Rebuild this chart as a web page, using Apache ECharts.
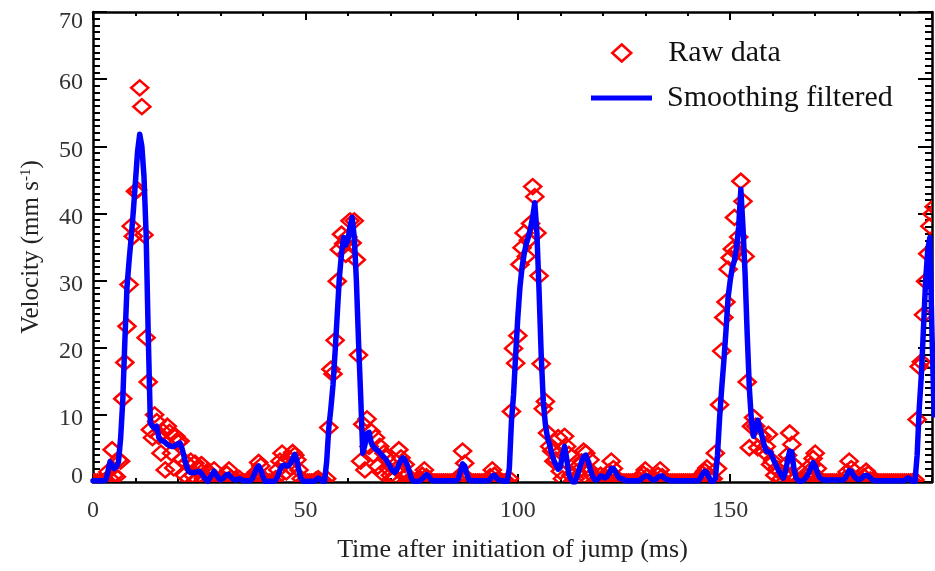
<!DOCTYPE html>
<html><head><meta charset="utf-8">
<script src="https://cdn.jsdelivr.net/npm/echarts@6/dist/echarts.min.js"></script>
<style>html,body{margin:0;padding:0;background:#fff}#chart{width:935px;height:571px}</style>
</head><body><div id="chart"></div>
<script>
// time grid step (ms)
const sampleStepMs = 0.5;
const xMin = 0, xMax = 197.5, yMin = 0, yMax = 70;
const xMajorStep = 50, xMinorStep = 10, yMajorStep = 10;
const seriesNames = ['Raw data', 'Smoothing filtered'];
const xTitle = 'Time after initiation of jump (ms)';
const yTitle = 'Velocity (mm s{sup|-1})';

// raw velocity, one value every 0.5 ms from t = 0 to 198 ms
const rawVelocity = [
0,0,0,0,0,0,0.3,1.5,0.5,4.8,
1.0,0.8,3.3,3.1,12.4,17.8,23.2,29.4,38.1,36.6,
43.3,43.5,58.7,55.9,36.8,21.5,14.9,7.8,6.6,10.0,
9.0,6.8,4.3,7.5,1.8,8.3,7.4,4.3,2.1,6.8,
5.9,6.1,3.4,1.0,2.8,0.5,3.1,1.0,2.8,0.3,
1.8,2.6,0.5,0.3,1.6,0.2,1.0,1.8,0.3,0,
0.5,0,0.3,1.2,1.8,0.6,0,0,0.2,0.5,
0,0,0,0.3,0,0,0.8,1.5,2.9,2.4,
0.6,0,0,0,0,0.2,0.5,1.8,3.1,4.3,
2.8,1.5,3.6,2.2,4.4,4.0,3.3,1.8,0.5,0,
0,0,0,0,0,0.3,0.5,0.2,0,0,
0.5,8.1,16.8,16.1,21.1,29.9,34.6,36.9,35.5,33.9,
36.5,38.9,35.6,38.9,33.1,18.9,3.1,8.6,1.8,9.4,
5.3,7.5,4.1,6.6,2.3,5.3,1.4,4.3,3.6,2.0,
1.0,0.3,0.8,2.0,4.8,3.6,1.5,2.6,1.0,0.3,
0,0,0,0,0.5,1.0,1.8,0.8,0,0,
0,0,0,0,0,0,0,0,0,0,
0,0,0.3,1.0,4.6,2.8,0.6,0,0,0,
0,0,0,0,0,0,0.3,0.8,1.8,1.0,
0.2,0,0,0,0,0,0.5,10.5,19.9,17.7,
21.8,32.4,34.9,37.1,33.6,36.0,38.5,44.0,42.5,37.1,
30.7,17.6,10.9,12.0,7.3,5.3,4.6,3.1,3.3,6.6,
1.6,0.5,6.8,5.3,4.1,1.0,0.2,0.5,1.5,2.5,
3.0,4.6,4.3,2.0,3.3,1.0,0,0,0.3,1.0,
0.5,0,0.4,1.5,3.1,2.0,0.8,0.2,0,0,
0,0,0,0,0,0,0,0.3,0.8,1.2,
1.8,0.8,0.2,0,0,0.3,1.0,1.8,0.8,0.2,
0,0,0,0,0,0,0,0,0,0,
0,0,0,0,0,0,0.5,1.2,1.6,2.1,
1.0,0.3,0.5,4.3,2.0,11.5,19.5,24.5,26.8,31.7,
33.4,34.7,39.4,34.4,36.5,44.8,41.8,33.6,14.9,5.1,
8.3,9.6,8.3,5.1,7.0,6.8,4.5,5.3,7.1,2.6,
3.1,1.0,2.0,1.6,0.5,1.2,2.5,4.0,7.3,5.6,
2.5,0.5,0,0,0,0.3,0.8,1.5,2.5,3.5,
4.3,2.0,0.5,0,0,0,0,0,0,0,
0,0,0,0,0.5,1.5,3.1,2.0,0.5,0,
0,0,0.3,0.8,1.6,1.2,0.3,0,0,0,
0,0,0,0,0,0,0,0,0,0,
0,0,0,0,0,0,0,0.3,9.3,17.2,
17.9,24.9,29.9,34.0,38.1,39.9,41.0
];

// smoothing-filtered velocity on the same 0.5 ms grid
const smoothVelocity = [
0.2,0.2,0.2,0.2,0.2,0.2,0.3,1.5,3.0,2.4,
2.0,2.3,3.0,6.5,12,21,29,33,36.5,40.4,
44.8,49.3,51.8,50,45.5,37,22,8.8,8.3,8.0,
8.3,6.6,6.2,6.1,5.9,5.6,5.4,5.3,5.3,5.5,
5.7,5.8,4.9,3.6,2.4,1.6,1.4,1.4,1.4,1.5,
1.6,1.3,0.8,0.4,0.1,0.6,1.1,1.6,1.1,0.6,
0.3,0.5,0.8,1.1,1.1,0.7,0.4,0.3,0.4,0.5,
0.3,0.2,0.2,0.2,0.2,0.5,1.2,2.0,2.4,1.8,
0.8,0.1,0.1,0.1,0.1,0.1,0.3,0.9,1.8,2.4,
2.5,2.4,2.4,2.8,3.5,4.1,3.2,1.6,0.5,0.1,
0.1,0.1,0.1,0.1,0.1,0.3,0.6,0.4,0.1,0.1,
3,8,11,14.5,19.5,25,30.5,34,36.4,35.3,
36,38,39.4,36.5,30,21,13,4.3,5.5,7.2,
7.4,5.8,5.3,4.9,4.7,4.4,4.0,3.7,3.3,2.8,
2.2,1.7,1.4,1.8,2.6,3.3,3.6,3.2,2.5,1.5,
0.4,0.1,0.1,0.1,0.2,0.5,0.8,1.1,0.9,0.4,
0.2,0.2,0.2,0.2,0.2,0.2,0.2,0.2,0.2,0.2,
0.2,0.2,0.5,1.6,2.7,2.4,1.2,0.3,0.2,0.2,
0.2,0.2,0.2,0.2,0.2,0.2,0.2,0.4,0.9,1.0,
0.6,0.3,0.2,0.2,0.1,0.1,2,9,13,19,
24.5,29,32,34,35.5,36.5,37.8,39.5,41.6,37,
28.5,19,12,8.5,6.6,5.5,4.2,3.2,2.5,1.9,
2.2,4.0,5.3,3.5,1.2,0.4,0,0,1.0,2.0,
3.0,3.8,4.0,3.2,2.0,1.0,0.4,0.3,0.5,0.9,
0.8,0.6,0.8,1.3,2.0,2.0,1.5,0.9,0.5,0.5,
0.3,0.2,0.2,0.2,0.2,0.2,0.2,0.2,0.4,0.7,
0.9,0.9,0.7,0.4,0.3,0.4,0.7,0.9,0.9,0.6,
0.4,0.3,0.2,0.2,0.2,0.2,0.2,0.2,0.2,0.2,
0.2,0.2,0.2,0.2,0.2,0.2,0.6,1.2,1.6,1.4,
0.7,0.1,0.1,0.5,4,9.5,14,18,22.5,27.5,
30,32,33,35,38.1,43.6,38,31,22,14,
9,6.8,8,9.2,8.0,6.8,5.5,4.6,4.5,4.4,
3.6,2.9,2.2,1.6,1.0,0.6,1.5,3.2,4.6,4.5,
2.0,0.6,0.2,0.1,0.2,0.4,0.8,1.4,2.2,2.9,
2.4,1.4,0.7,0.4,0.3,0.3,0.3,0.3,0.3,0.3,
0.3,0.3,0.3,0.3,0.5,1.1,1.7,1.6,1.0,0.6,
0.4,0.4,0.6,0.9,1.0,0.9,0.6,0.3,0.2,0.2,
0.2,0.2,0.2,0.2,0.2,0.2,0.2,0.2,0.2,0.2,
0.2,0.2,0.2,0.5,0.6,0.3,0.1,0.1,4,11,
16,23,30,34.6,36.4,22,10
];

const FONT = '"Liberation Serif", "Times New Roman", serif';
const rawData = rawVelocity.map((v, i) => [i * sampleStepMs, v]);
const smoothData = smoothVelocity.map((v, i) => [i * sampleStepMs, v]);

const frameLine = { show: true, onZero: false, lineStyle: { color: '#000', width: 2.5 } };

function xAxisCfg(position, major) {
  return {
    type: 'value', position: position, min: xMin, max: xMax,
    interval: major ? xMajorStep : xMinorStep,
    axisLine: major ? frameLine : { show: false, onZero: false },
    axisTick: { show: true, inside: true, length: major ? 8 : 4, lineStyle: { color: '#000', width: 2 } },
    axisLabel: (major && position === 'bottom') ? {
      show: true, showMaxLabel: false, margin: 17, fontSize: 24, color: '#333', fontFamily: FONT
    } : { show: false },
    splitLine: { show: false },
    name: (major && position === 'bottom') ? xTitle : '',
    nameLocation: 'middle', nameGap: 55,
    nameTextStyle: { fontSize: 26, color: '#222', fontFamily: FONT }
  };
}

function yAxisCfg(position) {
  const left = position === 'left';
  return {
    type: 'value', position: position, min: yMin, max: yMax, interval: yMajorStep,
    axisLine: frameLine,
    axisTick: { show: true, inside: true, length: 14, lineStyle: { color: '#000', width: 2 } },
    minorTick: { show: true, splitNumber: 10, length: 7, lineStyle: { color: '#000', width: 2 } },
    axisLabel: left ? {
      show: true, margin: 10,
      formatter: function (v) { return v === yMax ? '{t|' + v + '}' : (v === yMin ? '{b|' + v + '}' : '{n|' + v + '}'); },
      rich: {
        t: { fontSize: 24, color: '#333', fontFamily: FONT, padding: [20, 0, 0, 0] },
        b: { fontSize: 24, color: '#333', fontFamily: FONT, padding: [0, 0, 10, 0] },
        n: { fontSize: 24, color: '#333', fontFamily: FONT, padding: [8, 0, 0, 0] }
      }
    } : { show: false },
    splitLine: { show: false },
    minorSplitLine: { show: false },
    name: left ? yTitle : '',
    nameLocation: 'middle', nameGap: 49,
    nameTextStyle: {
      fontSize: 25, color: '#222', fontFamily: FONT,
      rich: { sup: { fontSize: 15, color: '#222', fontFamily: FONT, verticalAlign: 'top' } }
    }
  };
}

const chart = echarts.init(document.getElementById('chart'), null, { renderer: 'canvas' });
chart.setOption({
  animation: false,
  backgroundColor: '#fff',
  grid: { left: 93, right: 3, top: 12, bottom: 89, containLabel: false, outerBoundsMode: 'none' },
  xAxis: [xAxisCfg('bottom', true), xAxisCfg('bottom', false), xAxisCfg('top', true), xAxisCfg('top', false)],
  yAxis: [yAxisCfg('left'), yAxisCfg('right')],
  legend: [
    {
      data: [{ name: seriesNames[0], icon: 'diamond', itemStyle: { color: 'rgba(0,0,0,0)', borderColor: '#ff0000', borderWidth: 2.5 } }],
      left: 611, top: 38, padding: 0, itemWidth: 19, itemHeight: 17, selectedMode: false,
      textStyle: { fontSize: 30, color: '#111', fontFamily: FONT, padding: [0, 0, 0, 32] }
    },
    {
      data: [{ name: seriesNames[1], icon: 'rect', itemStyle: { color: '#0000ff' } }],
      left: 591, top: 83, padding: 0, itemWidth: 61, itemHeight: 5, selectedMode: false,
      textStyle: { fontSize: 30, color: '#111', fontFamily: FONT, padding: [0, 0, 0, 10] }
    }
  ],
  series: [
    {
      type: 'custom', name: seriesNames[0], coordinateSystem: 'cartesian2d',
      xAxisIndex: 0, yAxisIndex: 0, data: rawData, clip: true, z: 2,
      encode: { x: 0, y: 1 },
      itemStyle: { color: '#ff0000' },
      renderItem: function (params, api) {
        const p = api.coord([api.value(0), api.value(1)]);
        const hw = 8.5, hh = 7.5;
        return {
          type: 'polygon',
          shape: { points: [[p[0], p[1] - hh], [p[0] + hw, p[1]], [p[0], p[1] + hh], [p[0] - hw, p[1]]] },
          style: { fill: 'none', stroke: '#ff0000', lineWidth: 2.5 }
        };
      }
    },
    {
      type: 'line', name: seriesNames[1], xAxisIndex: 0, yAxisIndex: 0,
      data: smoothData, showSymbol: false, symbol: 'none', clip: true, z: 3,
      itemStyle: { color: '#0000ff' },
      lineStyle: { color: '#0000ff', width: 5.5, join: 'round', cap: 'round' }
    }
  ]
});
</script></body></html>
